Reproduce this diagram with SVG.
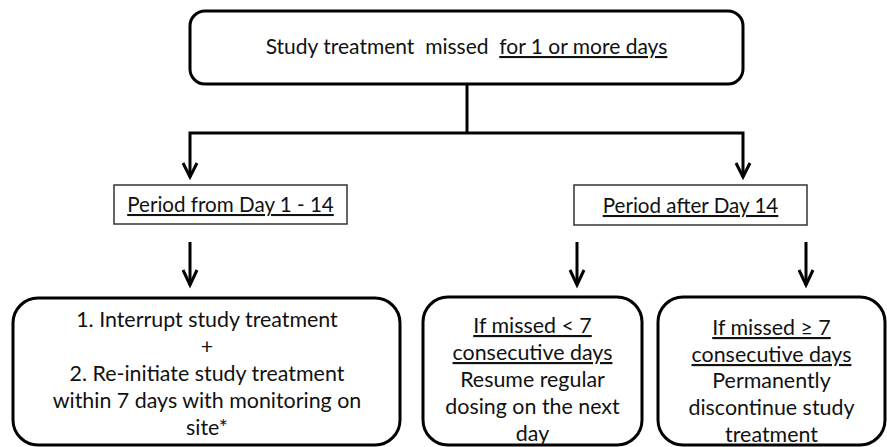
<svg xmlns="http://www.w3.org/2000/svg" width="887" height="447" viewBox="0 0 887 447">
<style>
  .rbox{fill:#fff;stroke:#000;stroke-width:3}
  .pbox{fill:#fff;stroke:#333;stroke-width:1.5}
  .t{font-family:Lato,"Liberation Sans",sans-serif;fill:#111;text-anchor:middle}
  .t1{font-size:21px}
  .tp{font-size:20.6px}
  .t2{font-size:21.4px}
  .u{text-decoration:underline}
  .c{fill:none;stroke:#000;stroke-width:3}
</style>
<g id="connectors">
  <polyline class="c" points="467,84 467,133"/>
  <polyline class="c" points="190,177 190,133 743,133 743,177"/>
  <line class="c" x1="190" y1="242" x2="190" y2="285"/>
  <line class="c" x1="577" y1="242" x2="577" y2="285"/>
  <line class="c" x1="806" y1="242" x2="806" y2="285"/>
  <g fill="none" stroke="#000" stroke-width="3">
    <polyline points="183,163 190,177 197,163"/>
    <polyline points="736,163 743,177 750,163"/>
    <polyline points="183,270 190,285 197,270"/>
    <polyline points="570,270 577,285 584,270"/>
    <polyline points="799,270 806,285 813,270"/>
  </g>
</g>
<g id="start">
  <rect class="rbox" x="190" y="11" width="553" height="73" rx="15"/>
  <text class="t t1" x="466.5" y="54" xml:space="preserve">Study treatment  missed  <tspan class="u">for 1 or more days</tspan></text>
</g>
<g id="period1">
  <rect class="pbox" x="114" y="185" width="233" height="39"/>
  <text class="t tp u" x="230.5" y="212">Period from Day 1 - 14</text>
</g>
<g id="period2">
  <rect class="pbox" x="574" y="185" width="233" height="40"/>
  <text class="t tp u" x="690.5" y="213">Period after Day 14</text>
</g>
<g id="action1">
  <rect class="rbox" x="13" y="298" width="387" height="147" rx="25"/>
  <text class="t t2" x="207" y="327">1. Interrupt study treatment</text>
  <text class="t t2" x="207" y="354">+</text>
  <text class="t t2" x="207" y="381">2. Re-initiate study treatment</text>
  <text class="t t2" x="207" y="408">within 7 days with monitoring on</text>
  <text class="t t2" x="207" y="435">site*</text>
</g>
<g id="action2">
  <rect class="rbox" x="423" y="297" width="219" height="148" rx="25"/>
  <text class="t t2 u" x="532.5" y="333">If missed &lt; 7</text>
  <text class="t t2 u" x="532.5" y="360">consecutive days</text>
  <text class="t t2" x="532.5" y="387">Resume regular</text>
  <text class="t t2" x="532.5" y="414">dosing on the next</text>
  <text class="t t2" x="532.5" y="441">day</text>
</g>
<g id="action3">
  <rect class="rbox" x="658" y="297" width="227" height="148" rx="25"/>
  <text class="t t2 u" x="771.5" y="335">If missed ≥ 7</text>
  <text class="t t2 u" x="771.5" y="362">consecutive days</text>
  <text class="t t2" x="771.5" y="388">Permanently</text>
  <text class="t t2" x="771.5" y="415">discontinue study</text>
  <text class="t t2" x="771.5" y="442">treatment</text>
</g>
</svg>
